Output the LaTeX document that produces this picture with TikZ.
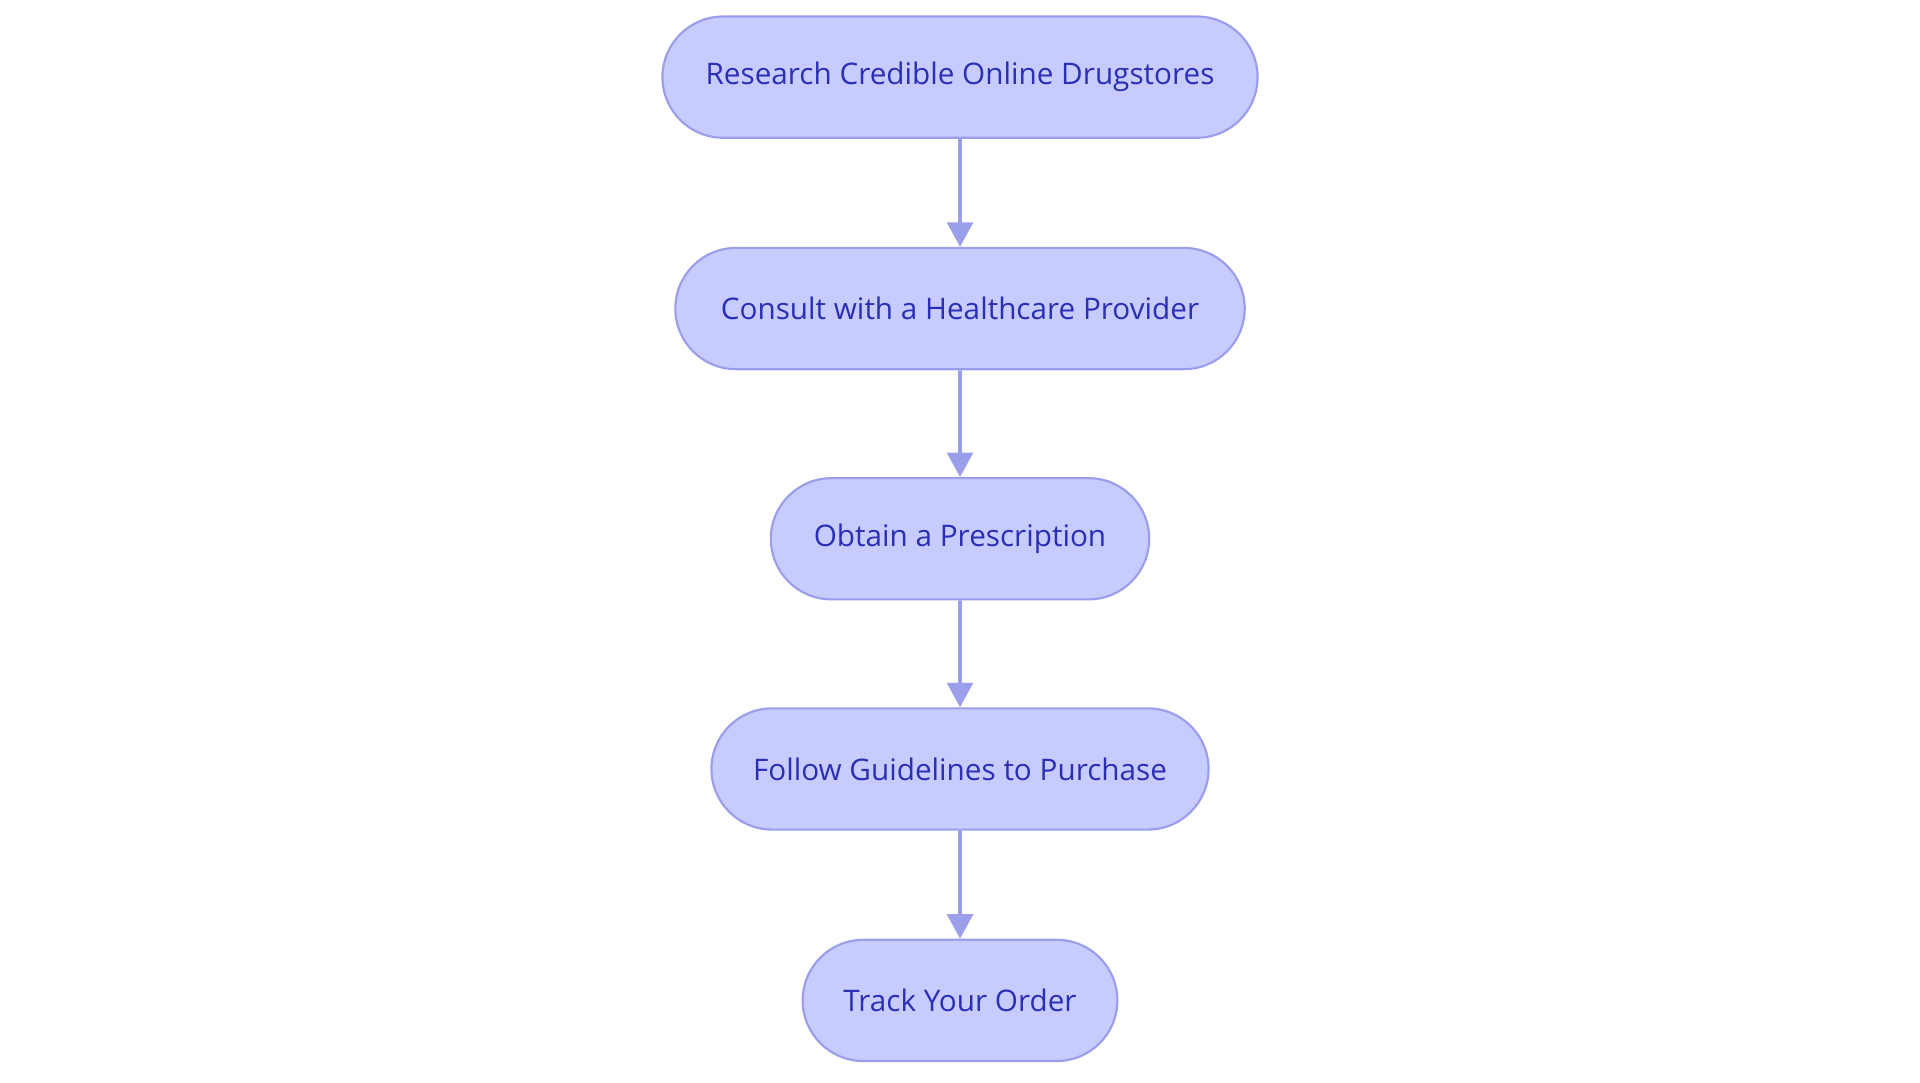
\documentclass[tikz,border=0pt]{standalone}
\usepackage{fontspec}
\setmainfont{Open Sans}
\usetikzlibrary{shapes.misc,arrows.meta}
\definecolor{stepfill}{HTML}{C8CBFE}
\definecolor{stepline}{HTML}{9A9EEB}
\definecolor{steptext}{HTML}{2B2FB5}
\tikzset{
  stage/.style={rounded rectangle, fill=stepfill, draw=stepline, line width=1pt,
    text=steptext, minimum height=1.98cm, inner xsep=0pt, font=\fontsize{13.8}{16}\selectfont},
  flow/.style={draw=stepline, line width=1.7pt, -{Triangle[width=0.42cm,length=0.4cm]}}
}
\begin{document}
\begin{tikzpicture}
  \useasboundingbox (0,0) rectangle (31.36,-17.68);

  \node[stage, minimum width=9.72cm] (research) at (15.68,-1.26) {Research Credible Online Drugstores};
  \node[stage, minimum width=9.30cm] (consult) at (15.68,-5.04) {Consult with a Healthcare Provider};
  \node[stage, minimum width=6.18cm] (obtain) at (15.68,-8.80) {Obtain a Prescription};
  \node[stage, minimum width=8.12cm] (follow) at (15.68,-12.56) {Follow Guidelines to Purchase};
  \node[stage, minimum width=5.14cm] (track) at (15.68,-16.34) {Track Your Order};

  \draw[flow] (research) -- (consult);
  \draw[flow] (consult) -- (obtain);
  \draw[flow] (obtain) -- (follow);
  \draw[flow] (follow) -- (track);
\end{tikzpicture}
\end{document}
